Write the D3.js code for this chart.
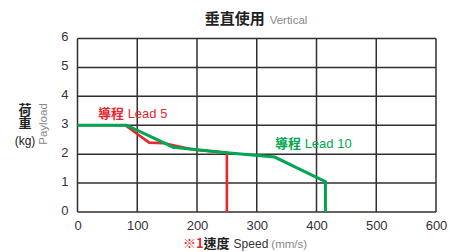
<!DOCTYPE html>
<html>
<head>
<meta charset="utf-8">
<script src="https://cdn.jsdelivr.net/npm/d3@7"></script>
<style>
  body { margin: 0; background: #fff; }
  svg { display: block; font-family: "Liberation Sans", "Noto Sans CJK TC", sans-serif; }
</style>
</head>
<body>
<div id="vis"></div>
<script>
const FRAME_WIDTH = 450;
const FRAME_HEIGHT = 252;
const MARGINS = {left: 77.5, right: 14, top: 38.5, bottom: 40};

// tick values
const xTicks = [0, 100, 200, 300, 400, 500, 600];
const yTicks = [0, 1, 2, 3, 4, 5, 6];

// lead 5 series (speed mm/s, payload kg)
const lead5Speed = [0, 80, 120, 145, 195, 250, 250];
const lead5Load = [3, 3, 2.4, 2.38, 2.15, 2.05, 0];

// lead 10 series
const lead10Speed = [0, 82, 160, 250, 330, 415, 415];
const lead10Load = [3, 3, 2.24, 2.05, 1.9, 1.05, 0];

const RED = "#e9262e";
const GREEN = "#00a651";
const GRID = "#332f2c";

const FRAME1 = d3.select("#vis")
  .append("svg")
    .attr("width", FRAME_WIDTH)
    .attr("height", FRAME_HEIGHT);

const X_SCALE = d3.scaleLinear()
  .domain([0, 600])
  .range([MARGINS.left, FRAME_WIDTH - MARGINS.right]);
const Y_SCALE = d3.scaleLinear()
  .domain([0, 6])
  .range([FRAME_HEIGHT - MARGINS.bottom, MARGINS.top]);

// grid
FRAME1.append("g")
  .selectAll("line")
  .data(xTicks)
  .enter()
  .append("line")
    .attr("x1", d => X_SCALE(d))
    .attr("x2", d => X_SCALE(d))
    .attr("y1", Y_SCALE(0))
    .attr("y2", Y_SCALE(6))
    .attr("stroke", GRID)
    .attr("stroke-width", 1.5);

FRAME1.append("g")
  .selectAll("line")
  .data(yTicks)
  .enter()
  .append("line")
    .attr("x1", X_SCALE(0))
    .attr("x2", X_SCALE(600))
    .attr("y1", d => Y_SCALE(d))
    .attr("y2", d => Y_SCALE(d))
    .attr("stroke", GRID)
    .attr("stroke-width", 1.5);

// axis tick labels
FRAME1.append("g")
  .attr("transform", "translate(0," + (Y_SCALE(0) + 9) + ")")
  .call(d3.axisBottom(X_SCALE).tickValues(xTicks).tickFormat(d3.format("d")).tickSize(0).tickPadding(0))
  .call(g => g.select(".domain").remove())
  .selectAll("text")
    .attr("font-size", "13px")
    .attr("fill", "#333")
    .attr("font-family", "Liberation Sans, sans-serif");

FRAME1.append("g")
  .attr("transform", "translate(" + (X_SCALE(0) - 9) + ",-2)")
  .call(d3.axisLeft(Y_SCALE).tickValues(yTicks).tickFormat(d3.format("d")).tickSize(0).tickPadding(0))
  .call(g => g.select(".domain").remove())
  .selectAll("text")
    .attr("font-size", "13px")
    .attr("fill", "#333")
    .attr("font-family", "Liberation Sans, sans-serif");

// lines
const line = d3.line().x(d => X_SCALE(d[0])).y(d => Y_SCALE(d[1]));

FRAME1.append("path")
  .datum(d3.zip(lead5Speed, lead5Load))
  .attr("d", line)
  .attr("fill", "none")
  .attr("stroke", RED)
  .attr("stroke-width", 2.6);

FRAME1.append("path")
  .datum(d3.zip(lead10Speed, lead10Load))
  .attr("d", line)
  .attr("fill", "none")
  .attr("stroke", GREEN)
  .attr("stroke-width", 3);

// series labels
FRAME1.append("text")
  .attr("x", 98).attr("y", 118)
  .attr("font-size", "13px").attr("fill", RED)
  .html('<tspan font-family="Noto Sans CJK TC" font-weight="bold">導程</tspan> Lead 5');

FRAME1.append("text")
  .attr("x", 275).attr("y", 148)
  .attr("font-size", "13px").attr("fill", GREEN)
  .html('<tspan font-family="Noto Sans CJK TC" font-weight="bold">導程</tspan> Lead 10');

// title
FRAME1.append("text")
  .attr("x", 256).attr("y", 24)
  .attr("text-anchor", "middle")
  .html('<tspan font-family="Noto Sans CJK TC" font-weight="bold" font-size="15px" fill="#222">垂直使用</tspan>'
      + '<tspan font-size="11.5px" fill="#888" dx="5">Vertical</tspan>');

// y label
FRAME1.append("text")
  .attr("x", 25).attr("y", 103)
  .attr("fill", "#222")
  .style("writing-mode", "vertical-rl")
  .attr("font-family", "Noto Sans CJK TC").attr("font-weight", "bold").attr("font-size", "13px")
  .text("荷重");
FRAME1.append("text")
  .attr("x", 25).attr("y", 145).attr("text-anchor", "middle")
  .attr("fill", "#222").attr("font-size", "12px").text("(kg)");
FRAME1.append("text")
  .attr("transform", "translate(47,124) rotate(-90)")
  .attr("text-anchor", "middle")
  .attr("font-size", "11.5px").attr("fill", "#888")
  .text("Payload");

// x label
FRAME1.append("text")
  .attr("x", 245).attr("y", 248)
  .attr("text-anchor", "middle")
  .html('<tspan fill="' + RED + '" font-family="Noto Sans CJK TC" font-weight="bold" font-size="13px">※1</tspan>'
      + '<tspan fill="#222" font-family="Noto Sans CJK TC" font-weight="bold" font-size="13px">速度</tspan>'
      + '<tspan fill="#333" font-size="12px" dx="4">Speed</tspan>'
      + '<tspan fill="#888" font-size="11.5px" dx="3">(mm/s)</tspan>');
</script>
</body>
</html>
